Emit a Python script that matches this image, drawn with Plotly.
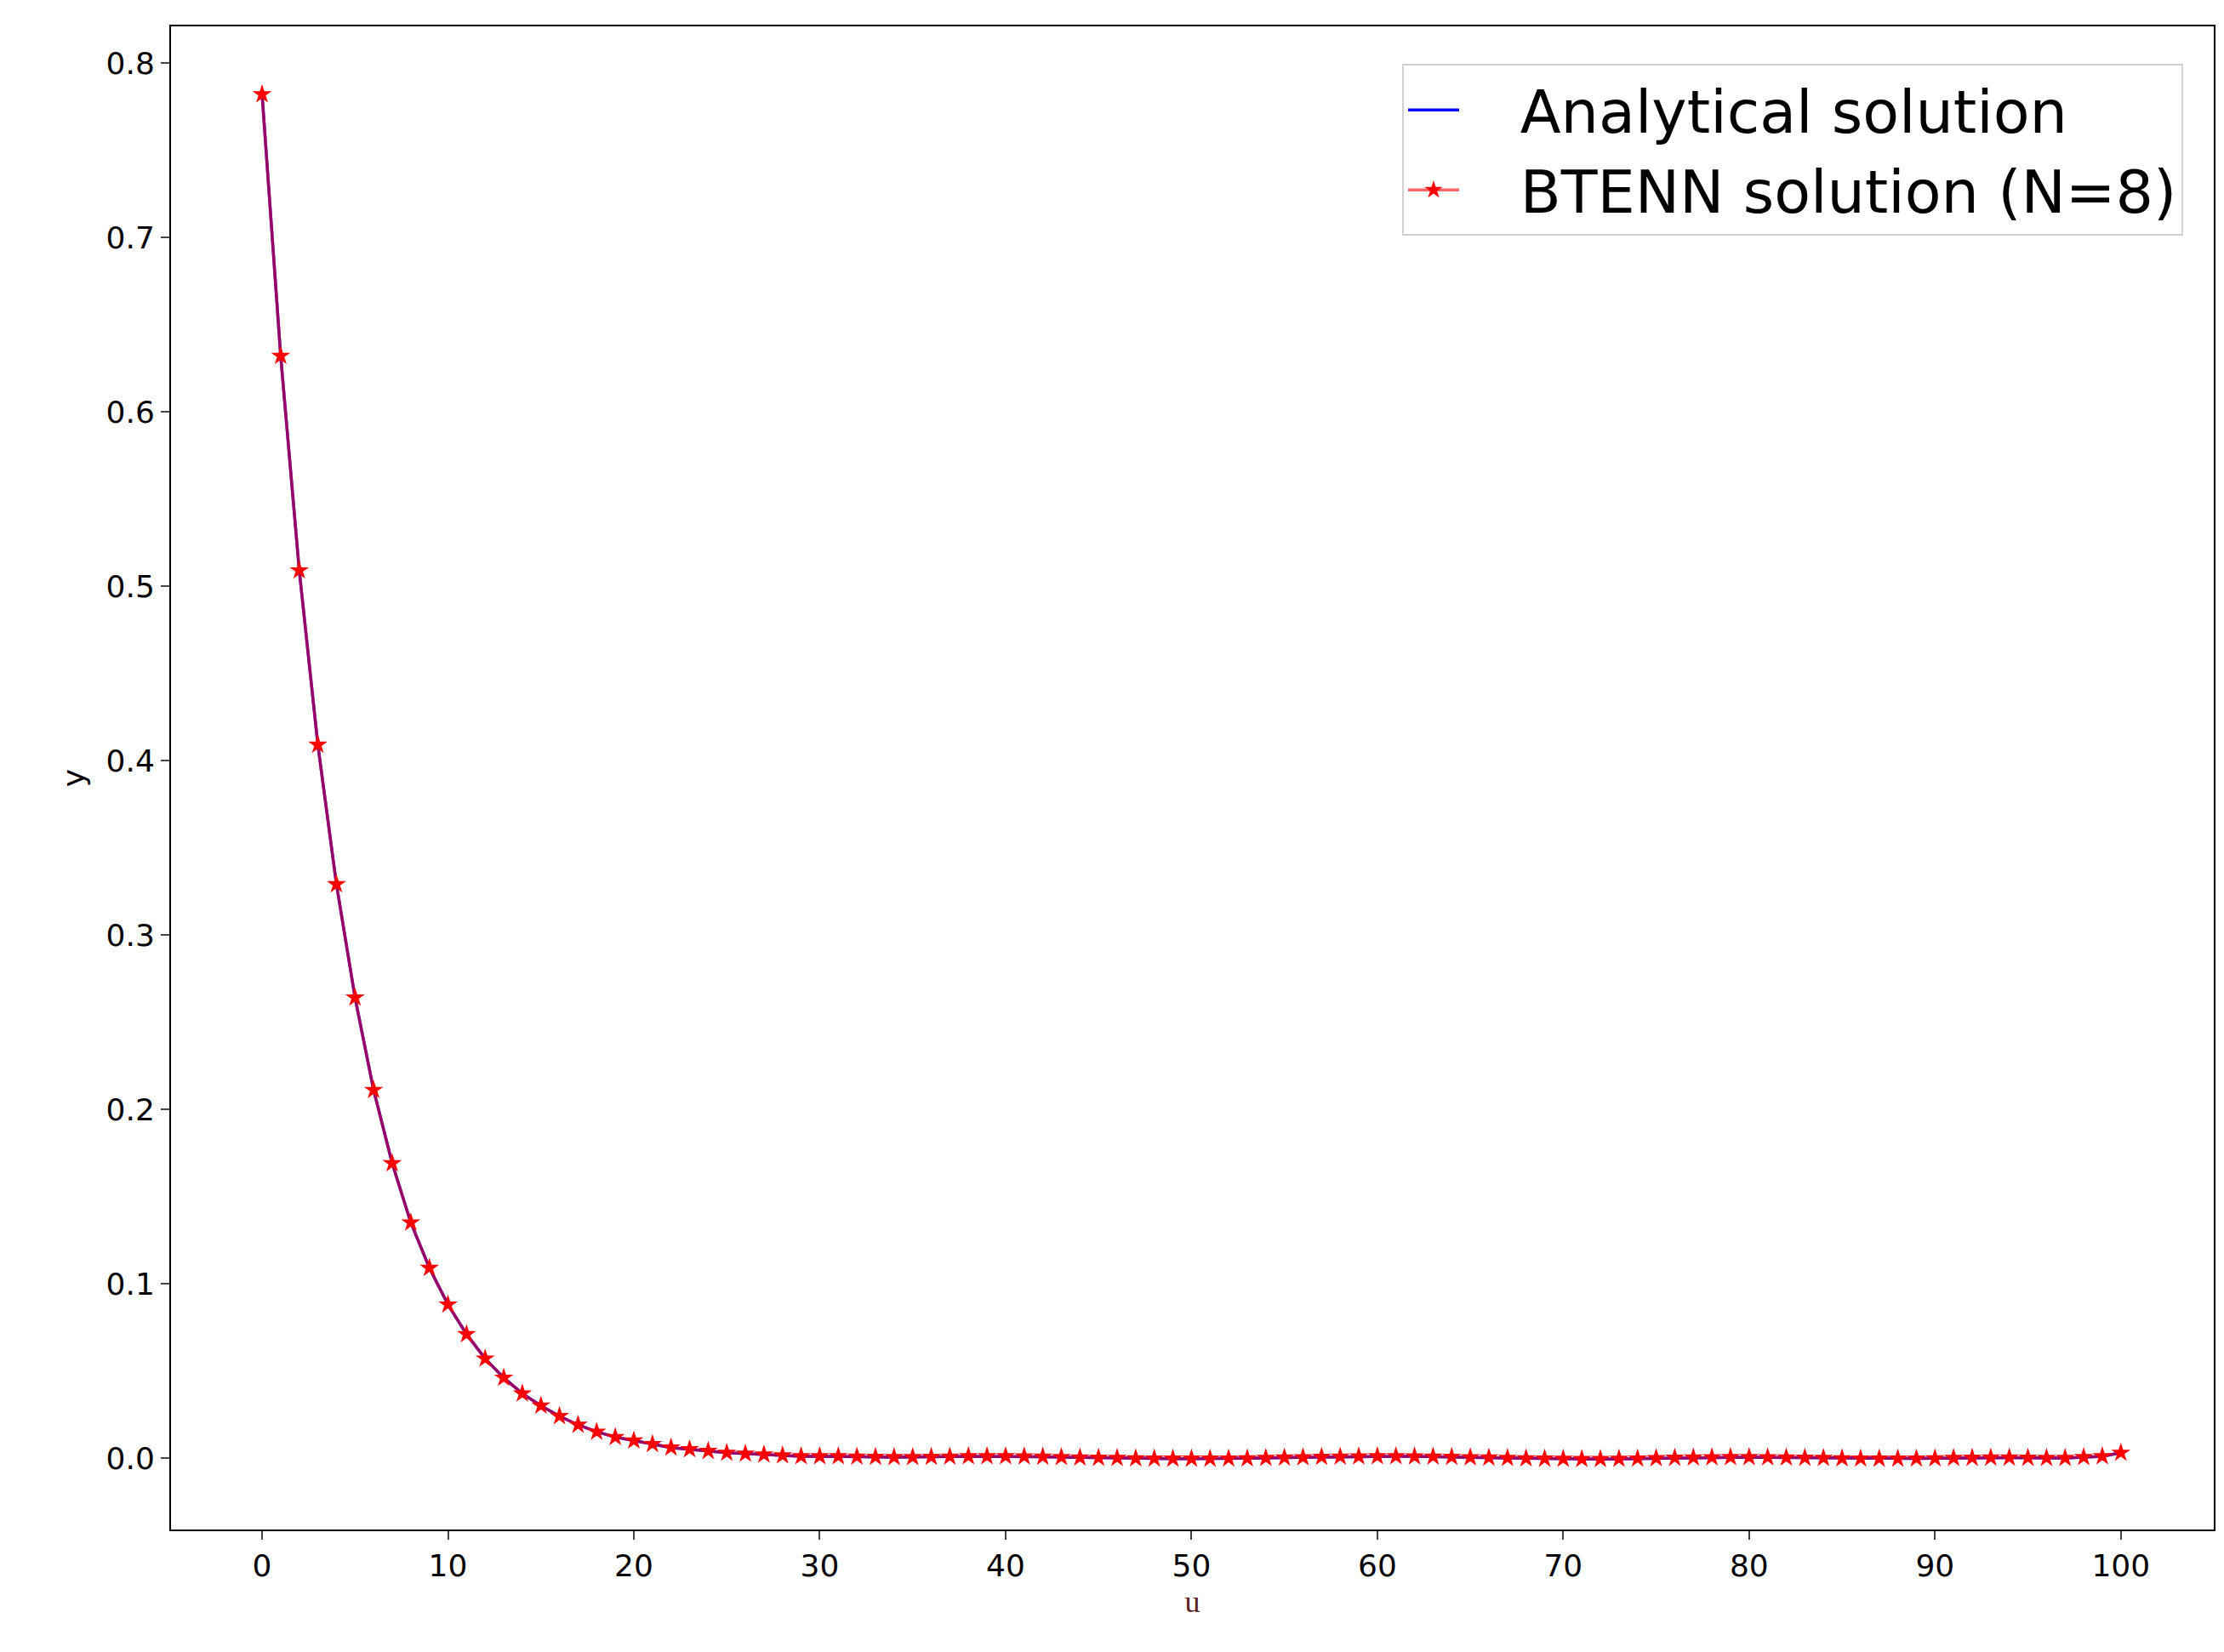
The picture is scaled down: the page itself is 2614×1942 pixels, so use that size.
import plotly.graph_objects as go

u = list(range(0, 101))
head = [0.782, 0.632, 0.509, 0.409, 0.329, 0.264, 0.211, 0.169, 0.135, 0.109,
        0.088, 0.071, 0.057, 0.046, 0.037, 0.030, 0.024, 0.019, 0.015, 0.012,
        0.010, 0.008, 0.006, 0.005, 0.004, 0.003, 0.0025, 0.002, 0.0015, 0.001]
tail = [0.001, 0.001, 0.0008, 0.0006, 0.0005, 0.0005, 0.0006, 0.0008, 0.001, 0.001,
        0.001, 0.0009, 0.0007, 0.0005, 0.0003, 0.0001, 0.0, -0.0002, -0.0003, -0.0004,
        -0.0004, -0.0004, -0.0003, -0.0002, 0.0, 0.0002, 0.0004, 0.0006, 0.0008, 0.0009,
        0.001, 0.001, 0.0009, 0.0008, 0.0006, 0.0004, 0.0002, 0.0, -0.0002, -0.0004,
        -0.0005, -0.0006, -0.0006, -0.0005, -0.0003, -0.0001, 0.0001, 0.0003, 0.0004, 0.0005,
        0.0005, 0.0004, 0.0003, 0.0001, 0.0, -0.0002, -0.0003, -0.0004, -0.0004, -0.0003,
        -0.0002, 0.0, 0.0001, 0.0002, 0.0002, 0.0001, 0.0, 0.0, 0.0005, 0.001, 0.003]
analytical = head + tail[:71]
btenn = head + tail[:71]

fig = go.Figure()
fig.add_trace(go.Scatter(x=u, y=analytical, mode="lines", name="   Analytical solution",
                         line=dict(color="blue", width=3.5)))
fig.add_trace(go.Scatter(x=u, y=btenn, mode="lines+markers", name="   BTENN solution (N=8)",
                         line=dict(color="rgba(255,0,0,0.6)", width=3.5),
                         marker=dict(symbol="star", size=17, color="red")))

fig.update_layout(
    width=2614, height=1942, paper_bgcolor="white", plot_bgcolor="white",
    margin=dict(l=193, r=20, t=23, b=152),
    font=dict(family="DejaVu Sans", color="black"),
    legend=dict(x=0.985, y=0.975, xanchor="right", yanchor="top",
                font=dict(size=70), bordercolor="#d0d0d0", borderwidth=2,
                bgcolor="rgba(255,255,255,0.8)", itemwidth=60, tracegroupgap=20),
    xaxis=dict(range=[-4.9, 105], tickvals=list(range(0, 101, 10)),
               ticks="outside", ticklen=10, tickwidth=2, tickfont=dict(size=36),
               showgrid=False, zeroline=False, showline=True, mirror=True,
               linecolor="black", linewidth=2,
               title=dict(text="u", font=dict(size=36, family="Liberation Serif", color="#5a2020"), standoff=10)),
    yaxis=dict(range=[-0.041, 0.821], tickvals=[0, 0.1, 0.2, 0.3, 0.4, 0.5, 0.6, 0.7, 0.8],
               tickformat=".1f", ticks="outside", ticklen=10, tickwidth=2, tickfont=dict(size=36),
               showgrid=False, zeroline=False, showline=True, mirror=True,
               linecolor="black", linewidth=2,
               title=dict(text="y", font=dict(size=36), standoff=14)),
)
fig.write_html("out.html")
